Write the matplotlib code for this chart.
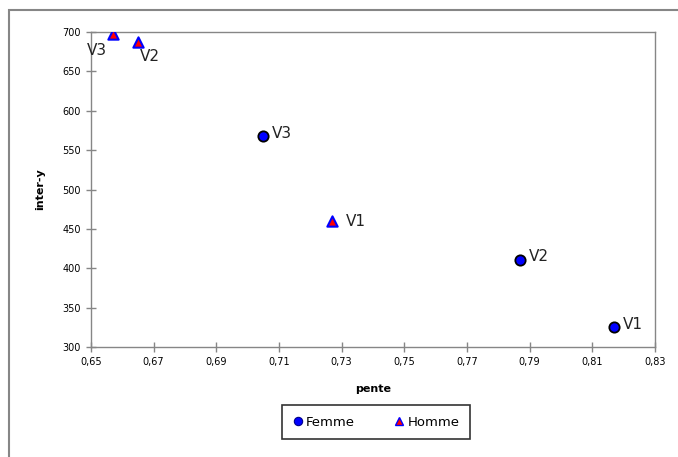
import matplotlib.pyplot as plt
from matplotlib.patches import Rectangle
from matplotlib.lines import Line2D
from matplotlib.ticker import FuncFormatter

# données
femme_x = [0.817, 0.787, 0.705]
femme_y = [325, 411, 568]
femme_lab = ["V1", "V2", "V3"]

homme_x = [0.727, 0.665, 0.657]
homme_y = [460, 687, 697]
homme_lab = ["V1", "V2", "V3"]

xticks = [0.65, 0.67, 0.69, 0.71, 0.73, 0.75, 0.77, 0.79, 0.81, 0.83]
yticks = [300, 350, 400, 450, 500, 550, 600, 650, 700]

grey = "#868686"

fig = plt.figure(figsize=(6.78, 4.57), dpi=100)
fig.patches.append(Rectangle((9 / 678, -0.1), 1.2, 1 - 10 / 457 + 0.1,
                             transform=fig.transFigure, fill=False,
                             edgecolor=grey, linewidth=1.5))
ax = fig.add_axes([91 / 678, 1 - 347 / 457, 564 / 678, 315 / 457])

ax.scatter(femme_x, femme_y, marker="o", s=55, c="#0000ff",
           edgecolors="black", linewidths=1.3, zorder=3)
ax.scatter(homme_x, homme_y, marker="^", s=55, c="#ff0000",
           edgecolors="#0000ff", linewidths=1.5, zorder=3)

# étiquettes des points
fs = 11
for x, y, t in zip(femme_x, femme_y, femme_lab):
    ax.annotate(t, (x, y), xytext=(6, 2), textcoords="offset points",
                va="center", ha="left", fontsize=fs, color="#222222")
off_h = {"V1": (10, 0, "left", "center"), "V2": (1, -5, "left", "top"),
         "V3": (-4, -6, "right", "top")}
for x, y, t in zip(homme_x, homme_y, homme_lab):
    dx, dy, ha, va = off_h[t]
    ax.annotate(t, (x, y), xytext=(dx, dy), textcoords="offset points",
                va=va, ha=ha, fontsize=fs, color="#222222")

ax.set_xlim(0.65, 0.83)
ax.set_ylim(300, 700)
ax.set_xticks(xticks)
ax.set_yticks(yticks)
ax.xaxis.set_major_formatter(FuncFormatter(lambda v, p: f"{v:.2f}".replace(".", ",")))
ax.tick_params(axis="both", direction="inout", length=7, width=1,
               color=grey, labelsize=7, pad=4)
for s in ax.spines.values():
    s.set_color(grey)
    s.set_linewidth(1)

ax.set_xlabel("pente", fontsize=8, fontweight="bold", labelpad=12)
ax.set_ylabel("inter-y", fontsize=8, fontweight="bold", labelpad=12)

handles = [
    Line2D([], [], linestyle="none", marker="o", markersize=6,
           markerfacecolor="#0000ff", markeredgecolor="#00008b",
           markeredgewidth=0.8, label="Femme"),
    Line2D([], [], linestyle="none", marker="^", markersize=6,
           markerfacecolor="#ff0000", markeredgecolor="#0000ff",
           markeredgewidth=1.0, label="Homme"),
]
leg = ax.legend(handles=handles, loc="upper center",
                bbox_to_anchor=(0.505, -0.185), ncol=2,
                frameon=True, fancybox=False, edgecolor="black",
                handlelength=0.8, handletextpad=0.2,
                columnspacing=3.0, borderpad=0.8, borderaxespad=0,
                prop={"size": 9.5})
leg.get_frame().set_linewidth(1.2)

fig.savefig("out.png", dpi=100)
